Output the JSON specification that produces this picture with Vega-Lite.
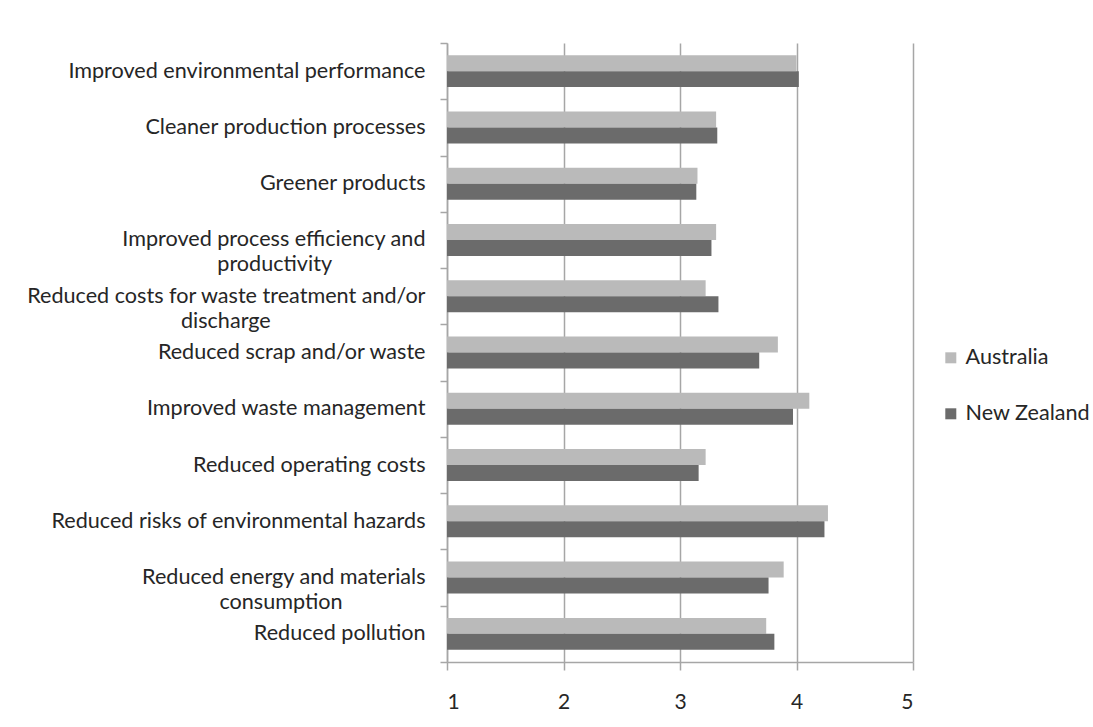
{
  "$schema": "https://vega.github.io/schema/vega-lite/v6.json",
  "autosize": "none",
  "width": 466,
  "height": 619,
  "padding": {"left": 447, "top": 43, "right": 180, "bottom": 65},
  "background": "white",
  "data": {
    "values": [
      {"benefit": "Improved environmental performance", "country": "Australia", "score": 4.00},
      {"benefit": "Improved environmental performance", "country": "New Zealand", "score": 4.02},
      {"benefit": "Cleaner production processes", "country": "Australia", "score": 3.31},
      {"benefit": "Cleaner production processes", "country": "New Zealand", "score": 3.32},
      {"benefit": "Greener products", "country": "Australia", "score": 3.15},
      {"benefit": "Greener products", "country": "New Zealand", "score": 3.14},
      {"benefit": "Improved process efficiency and\nproductivity", "country": "Australia", "score": 3.31},
      {"benefit": "Improved process efficiency and\nproductivity", "country": "New Zealand", "score": 3.27},
      {"benefit": "Reduced costs for waste treatment and/or\ndischarge", "country": "Australia", "score": 3.22},
      {"benefit": "Reduced costs for waste treatment and/or\ndischarge", "country": "New Zealand", "score": 3.33},
      {"benefit": "Reduced scrap and/or waste", "country": "Australia", "score": 3.84},
      {"benefit": "Reduced scrap and/or waste", "country": "New Zealand", "score": 3.68},
      {"benefit": "Improved waste management", "country": "Australia", "score": 4.11},
      {"benefit": "Improved waste management", "country": "New Zealand", "score": 3.97},
      {"benefit": "Reduced operating costs", "country": "Australia", "score": 3.22},
      {"benefit": "Reduced operating costs", "country": "New Zealand", "score": 3.16},
      {"benefit": "Reduced risks of environmental hazards", "country": "Australia", "score": 4.27},
      {"benefit": "Reduced risks of environmental hazards", "country": "New Zealand", "score": 4.24},
      {"benefit": "Reduced energy and materials\nconsumption", "country": "Australia", "score": 3.89},
      {"benefit": "Reduced energy and materials\nconsumption", "country": "New Zealand", "score": 3.76},
      {"benefit": "Reduced pollution", "country": "Australia", "score": 3.74},
      {"benefit": "Reduced pollution", "country": "New Zealand", "score": 3.81}
    ]
  },
  "mark": {"type": "bar", "orient": "horizontal"},
  "encoding": {
    "y": {
      "field": "benefit",
      "type": "nominal",
      "sort": null,
      "scale": {"paddingInner": 0, "paddingOuter": 0},
      "axis": {
        "title": null,
        "labelExpr": "indexof(datum.label, '\\n') < 0 ? datum.label : [split(datum.label, '\\n')[0], pad(split(datum.label, '\\n')[1], length(split(datum.label, '\\n')[1]) + round((length(split(datum.label, '\\n')[0]) - length(split(datum.label, '\\n')[1])) * 0.9), '\u00a0') + '\u200b']",
        "labelFont": "Lato",
        "labelFontSize": 21.6,
        "labelLineHeight": 25,
        "labelColor": "#262626",
        "labelLimit": 500,
        "labelPadding": 15,
        "tickBand": "extent",
        "tickSize": 7,
        "tickColor": "#a6a6a6",
        "tickWidth": 1.5,
        "domainColor": "#a6a6a6",
        "domainWidth": 1.5,
        "grid": false
      }
    },
    "yOffset": {
      "field": "country",
      "type": "nominal",
      "sort": ["Australia", "New Zealand"],
      "scale": {"paddingInner": 0, "paddingOuter": 0.76}
    },
    "x": {
      "field": "score",
      "type": "quantitative",
      "scale": {"domain": [1, 5], "zero": false, "nice": false},
      "axis": {
        "title": null,
        "values": [1, 2, 3, 4, 5],
        "format": "d",
        "labelFont": "Lato",
        "labelFontSize": 21,
        "labelColor": "#262626",
        "labelPadding": 21,
        "tickSize": 8,
        "tickColor": "#a6a6a6",
        "tickWidth": 1.5,
        "domainColor": "#a6a6a6",
        "domainWidth": 1.5,
        "grid": true,
        "gridColor": "#a6a6a6",
        "gridWidth": 1.5
      }
    },
    "x2": {"datum": 1},
    "color": {
      "field": "country",
      "type": "nominal",
      "scale": {"domain": ["Australia", "New Zealand"], "range": ["#bababa", "#6b6b6b"]},
      "legend": {
        "title": null,
        "orient": "none",
        "legendX": 493,
        "legendY": 304,
        "padding": 0,
        "symbolType": "square",
        "symbolSize": 121,
        "symbolStrokeWidth": 0,
        "labelFont": "Lato",
        "labelFontSize": 21.6,
        "labelColor": "#262626",
        "labelOffset": 4,
        "rowPadding": 33
      }
    }
  },
  "config": {
    "view": {"stroke": null}
  }
}
